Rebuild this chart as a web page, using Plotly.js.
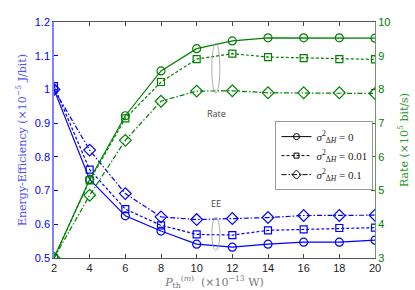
<!DOCTYPE html>
<html>
<head>
<meta charset="utf-8">
<script src="https://cdn.plot.ly/plotly-3.0.1.min.js"></script>
<style>html,body{margin:0;padding:0;background:#fff;}#chart{width:415px;height:290px;}</style>
</head>
<body>
<div id="chart"></div>
<script>
const pth = [2, 4, 6, 8, 10, 12, 14, 16, 18, 20];
const legendNames = [
  "<i>σ</i><sup>2</sup><sub>Δ<i>H</i></sub> = 0",
  "<i>σ</i><sup>2</sup><sub>Δ<i>H</i></sub> = 0.01",
  "<i>σ</i><sup>2</sup><sub>Δ<i>H</i></sub> = 0.1"
];
// Energy efficiency (x1e-5 J/bit)
const ee0   = [1.00, 0.733, 0.625, 0.580, 0.541, 0.532, 0.541, 0.547, 0.547, 0.553];
const ee001 = [1.01, 0.762, 0.645, 0.597, 0.570, 0.568, 0.582, 0.585, 0.589, 0.590];
const ee01  = [1.00, 0.820, 0.691, 0.622, 0.614, 0.617, 0.620, 0.626, 0.626, 0.627];
// Rate (x1e5 bit/s)
const rate0   = [3.0, 5.33, 7.22, 8.55, 9.21, 9.44, 9.53, 9.53, 9.53, 9.52];
const rate001 = [3.0, 5.30, 7.14, 8.22, 8.90, 9.06, 8.96, 8.93, 8.90, 8.89];
const rate01  = [3.0, 4.86, 6.49, 7.65, 7.95, 7.96, 7.90, 7.90, 7.90, 7.88];

const BLUE = 'rgb(0,0,255)';
const GREEN = 'rgb(0,128,0)';
const symbols = ['circle-open', 'square-open', 'diamond-open'];
const sizes = [8, 7, 9];
const dashes = ['solid', '3px,2px', '5px,2px,1.5px,2px'];

const traces = [];
[ee0, ee001, ee01].forEach((d, i) => {
  traces.push({x: pth, y: d, type: 'scatter', mode: 'lines+markers', showlegend: false,
    line: {color: BLUE, width: 1.2, dash: dashes[i]},
    marker: {symbol: symbols[i], size: sizes[i], color: BLUE, line: {color: BLUE, width: 1.2}},
    xaxis: 'x', yaxis: 'y'});
});
[rate0, rate001, rate01].forEach((d, i) => {
  traces.push({x: pth, y: d, type: 'scatter', mode: 'lines+markers', showlegend: false,
    line: {color: GREEN, width: 1.2, dash: dashes[i]},
    marker: {symbol: symbols[i], size: sizes[i], color: GREEN, line: {color: GREEN, width: 1.2}},
    xaxis: 'x', yaxis: 'y2'});
});
legendNames.forEach((n, i) => {
  traces.push({x: [null], y: [null], type: 'scatter', mode: 'lines+markers', name: n,
    line: {color: 'black', width: 1, dash: dashes[i]},
    marker: {symbol: symbols[i], size: sizes[i] - 2, color: 'black', line: {color: 'black', width: 1}},
    xaxis: 'x', yaxis: 'y'});
});

const layout = {
  width: 415, height: 290,
  margin: {l: 54, r: 40, t: 22, b: 32},
  paper_bgcolor: 'white', plot_bgcolor: 'white',
  font: {family: 'Liberation Sans, Arial, sans-serif', size: 11, color: '#222'},
  showlegend: true,
  legend: {x: 0.69, y: 0.58, xanchor: 'left', yanchor: 'top',
    bgcolor: 'white', bordercolor: '#999', borderwidth: 1,
    font: {family: 'Liberation Serif, serif', size: 11, color: '#222'},
    tracegroupgap: 0, itemwidth: 30},
  xaxis: {range: [2, 20], dtick: 2, tick0: 2, ticks: 'inside', ticklen: 4,
    showline: true, linecolor: '#555', mirror: 'ticks', showgrid: false, zeroline: false,
    tickfont: {size: 11, color: '#222'},
    title: {text: '<i>P</i><sub>th</sub><sup>(<i>m</i>)</sup>  (×10<sup>−13</sup> W)',
      font: {family: 'DejaVu Serif, serif', size: 11, color: '#777'}, standoff: 2}},
  yaxis: {range: [0.5, 1.2], dtick: 0.1, tick0: 0.5, ticks: 'inside', ticklen: 4,
    showline: true, linecolor: 'rgb(130,130,255)', linewidth: 1.5, showgrid: false, zeroline: false,
    tickcolor: BLUE, tickfont: {size: 11, color: BLUE},
    title: {text: 'Energy-Efficiency (×10<sup>−5</sup> J/bit)',
      font: {family: 'DejaVu Serif, serif', size: 11, color: 'rgb(80,80,255)'}, standoff: 6}},
  yaxis2: {range: [3, 10], dtick: 1, tick0: 3, overlaying: 'y', side: 'right',
    ticks: 'inside', ticklen: 4, showline: true, linecolor: 'rgb(110,150,110)',
    showgrid: false, zeroline: false, tickcolor: GREEN,
    tickfont: {size: 11, color: GREEN},
    title: {text: 'Rate (×10<sup>5</sup> bit/s)',
      font: {family: 'DejaVu Serif, serif', size: 11, color: 'rgb(40,150,40)'}, standoff: 10}},
  shapes: [
    {type: 'circle', xref: 'x', yref: 'y2', x0: 10.85, x1: 11.3, y0: 7.89, y1: 9.37,
      line: {color: '#999', width: 0.8}},
    {type: 'circle', xref: 'x', yref: 'y', x0: 10.85, x1: 11.3, y0: 0.523, y1: 0.621,
      line: {color: '#999', width: 0.8}}
  ],
  annotations: [
    {x: 11.1, y: 7.3, xref: 'x', yref: 'y2', text: 'Rate', showarrow: false,
      font: {family: 'Open Sans, sans-serif', size: 9, color: '#444'}},
    {x: 11.1, y: 0.662, xref: 'x', yref: 'y', text: 'EE', showarrow: false,
      font: {family: 'Open Sans, sans-serif', size: 9, color: '#444'}}
  ]
};

Plotly.newPlot('chart', traces, layout, {displayModeBar: false, responsive: false});
</script>
</body>
</html>
